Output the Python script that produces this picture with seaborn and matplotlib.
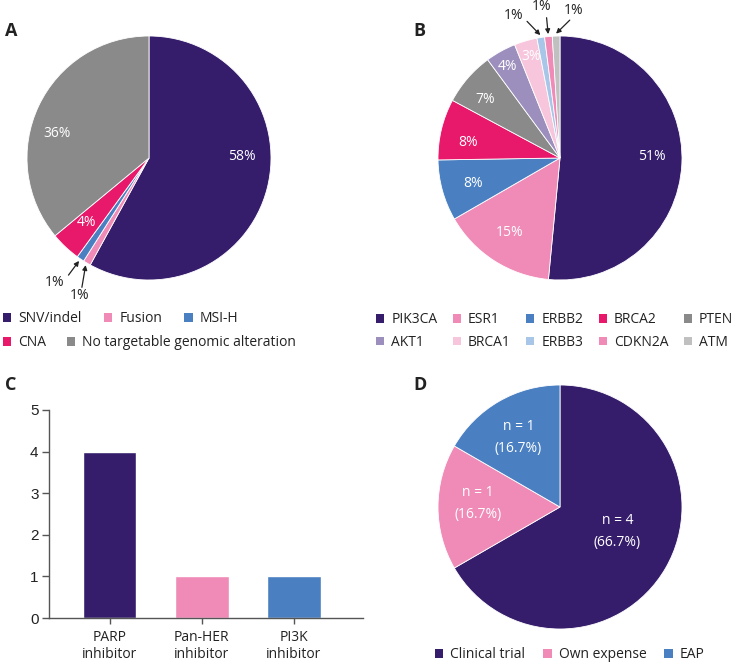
import numpy as np
import seaborn as sns
import matplotlib.pyplot as plt
from matplotlib.patches import Patch

# data
a_labels = ["SNV/indel", "Fusion", "MSI-H", "CNA", "No targetable genomic alteration"]
a_values = [58, 1, 1, 4, 36]
a_colors = ["#351d6b", "#f08bb8", "#4a80c2", "#e8196a", "#8a8a8a"]

b_labels = ["PIK3CA", "ESR1", "ERBB2", "BRCA2", "PTEN",
            "AKT1", "BRCA1", "ERBB3", "CDKN2A", "ATM"]
b_values = [51, 15, 8, 8, 7, 4, 3, 1, 1, 1]
b_colors = ["#351d6b", "#f08bb8", "#4a80c2", "#e8196a", "#8a8a8a",
            "#9d8fbd", "#f7c6dc", "#a8c6e8", "#f08bb8", "#c0c0c0"]

c_labels = ["PARP\ninhibitor", "Pan-HER\ninhibitor", "PI3K\ninhibitor"]
c_values = [4, 1, 1]
c_colors = ["#351d6b", "#f08bb8", "#4a80c2"]

d_labels = ["Clinical trial", "Own expense", "EAP"]
d_values = [4, 1, 1]
d_colors = ["#351d6b", "#f08bb8", "#4a80c2"]

sns.set_theme(style="white")
plt.rcParams["font.family"] = ["Open Sans", "DejaVu Sans"]
TXT = "#222222"

W, H = 741, 666
fig = plt.figure(figsize=(W / 100, H / 100), dpi=100)


def px_axes(left, top, right, bottom):
    return fig.add_axes([left / W, 1 - bottom / H, (right - left) / W, (bottom - top) / H])


def pie_axes(cx, cy, r):
    ax = px_axes(cx - r, cy - r, cx + r, cy + r)
    ax.set_axis_off()
    return ax


def draw_pie(ax, values, colors):
    wedges, _ = ax.pie(values, colors=colors, startangle=90, counterclock=False,
                       radius=1, wedgeprops=dict(linewidth=0.6, edgecolor="white"))
    for w in wedges:
        w.set_clip_on(False)
    # pie sets its own limits, override so the circle fills the axes
    ax.set_xlim(-1, 1)
    ax.set_ylim(-1, 1)
    return wedges


def mid_point(w, rr=1.02):
    ang = np.deg2rad((w.theta1 + w.theta2) / 2)
    return rr * np.cos(ang), rr * np.sin(ang)


def arrow(ax, wedge, tail):
    ax.annotate("", xy=mid_point(wedge), xytext=tail, annotation_clip=False,
                arrowprops=dict(arrowstyle="-|>", color=TXT, lw=0.9,
                                mutation_scale=7, shrinkA=0, shrinkB=0))


def row_legend(labels, colors, x, y, ncol, colsp=1.5):
    handles = [Patch(facecolor=c, edgecolor="none") for c in colors]
    leg = fig.legend(handles, labels, loc="center left", bbox_to_anchor=(x / W, 1 - y / H),
                     ncol=ncol, frameon=False, fontsize=10, borderpad=0, borderaxespad=0,
                     handlelength=0.6, handleheight=0.6, handletextpad=0.5,
                     columnspacing=colsp, labelspacing=0.55, labelcolor=TXT)
    return leg


# ---- A ----
axa = pie_axes(149, 158, 122)
wa = draw_pie(axa, a_values, a_colors)
lbl = dict(color="white", fontsize=10, ha="center", va="center")
axa.text(0.76, 0.01, "58%", **lbl)
axa.text(-0.75, 0.20, "36%", **lbl)
axa.text(-0.51, -0.53, "4%", **lbl)
axa.text(-0.77, -1.02, "1%", color=TXT, fontsize=10, ha="center", va="center")
axa.text(-0.57, -1.13, "1%", color=TXT, fontsize=10, ha="center", va="center")
arrow(axa, wa[2], (-0.66, -0.96))
arrow(axa, wa[1], (-0.55, -1.06))

# ---- B ----
axb = pie_axes(560, 158, 122)
wb = draw_pie(axb, b_values, b_colors)
axb.text(0.75, 0.01, "51%", **lbl)
axb.text(-0.41, -0.61, "15%", **lbl)
axb.text(-0.71, -0.21, "8%", **lbl)
axb.text(-0.75, 0.13, "8%", **lbl)
axb.text(-0.61, 0.48, "7%", **lbl)
axb.text(-0.43, 0.75, "4%", **lbl)
axb.text(-0.24, 0.83, "3%", **lbl)
for (tx, ty), (ax_, ay_), w in zip([(-0.38, 1.17), (-0.15, 1.24), (0.11, 1.21)],
                                   [(-0.27, 1.12), (-0.11, 1.15), (0.08, 1.13)],
                                   wb[7:]):
    axb.text(tx, ty, "1%", color=TXT, fontsize=10, ha="center", va="center")
    arrow(axb, w, (ax_, ay_))

# ---- C ----
axc = px_axes(49, 410, 363, 618)
sns.barplot(x=c_labels, y=c_values, hue=c_labels, palette=c_colors, saturation=1,
            width=0.58, legend=False, ax=axc)
axc.set_xlim(-0.66, 2.75)
axc.set_ylim(0, 5)
axc.set_yticks([0, 1, 2, 3, 4, 5])
for s in ["top", "right"]:
    axc.spines[s].set_visible(False)
for s in ["left", "bottom"]:
    axc.spines[s].set_color("#555555")
    axc.spines[s].set_linewidth(1)
axc.tick_params(axis="y", direction="out", length=5, width=1, color="#555555",
                labelsize=11, labelcolor=TXT, left=True, pad=2.5)
axc.tick_params(axis="x", direction="out", length=4.5, width=1, color="#555555",
                labelsize=10, labelcolor=TXT, bottom=True, pad=4)
for t in axc.get_yticklabels():
    t.set_family(["Liberation Sans", "DejaVu Sans"])
for t in axc.get_xticklabels():
    t.set_linespacing(1.2)

# ---- D ----
axd = pie_axes(560, 507, 122)
draw_pie(axd, d_values, d_colors)
axd.text(0.47, -0.20, "n = 4\n(66.7%)", linespacing=1.6, **lbl)
axd.text(-0.67, 0.03, "n = 1\n(16.7%)", linespacing=1.6, **lbl)
axd.text(-0.34, 0.57, "n = 1\n(16.7%)", linespacing=1.6, **lbl)

# ---- legends ----
row_legend(a_labels[:3], a_colors[:3], 3, 319, 3, colsp=1.6)
row_legend(a_labels[3:], a_colors[3:], 3, 343, 2)
# legend fills column-wise, so interleave the two rows
b_order = [i + 5 * r for i in range(5) for r in range(2)]
row_legend([b_labels[i] for i in b_order], [b_colors[i] for i in b_order], 376, 331, 5, colsp=1.1)
row_legend(d_labels, d_colors, 435, 655, 3, colsp=1.3)

# ---- panel letters ----
for letter, x, y in [("A", 5, 31), ("B", 413, 31), ("C", 5, 385), ("D", 413, 385)]:
    fig.text(x / W, 1 - y / H, letter, fontsize=13, fontweight="bold",
             color=TXT, va="center", ha="left")

fig.savefig("out.png", dpi=100)
